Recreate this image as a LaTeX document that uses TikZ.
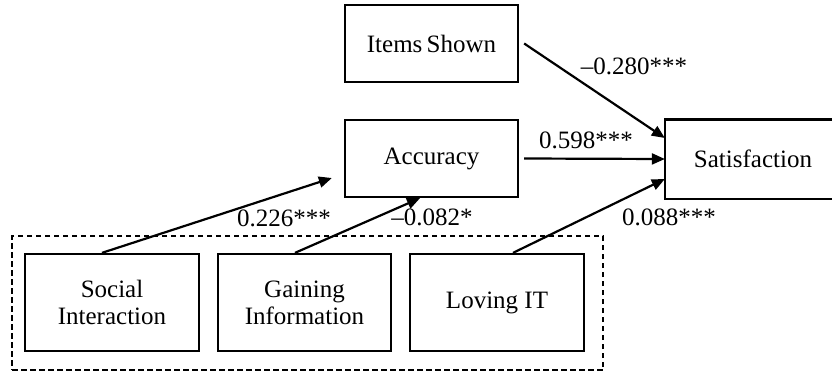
\documentclass[tikz,border=0pt]{standalone}
\usepackage{fontspec}
\setmainfont{Liberation Serif}
\usetikzlibrary{arrows.meta,calc}
\begin{document}
\begin{tikzpicture}[x=1pt,y=-1pt,
  font=\fontsize{25}{27}\selectfont,
  varbox/.style={draw,line width=2.3pt,minimum width=173pt,minimum height=77pt,
    inner sep=0pt,align=center},
  motbox/.style={varbox,minimum height=97pt},
  path/.style={line width=2.2pt,-{Triangle[length=13pt,width=11pt]}},
  coef/.style={inner sep=0pt}]
\useasboundingbox (0,0) rectangle (832,372);
% outcome and mediator variables
\node[varbox] (items) at (431.5,43.5) {Items\,Shown};
\node[varbox] (acc) at (431.5,158.5) {Accuracy};
% the outcome box runs on past the right margin
\node[varbox,draw=none,minimum width=174pt] (sat) at (753,159) {Satisfaction};
\draw[line width=2.3pt] ($(sat.north east)+(30,0)$) -- (sat.north west)
  -- (sat.south west) -- ($(sat.south east)+(30,0)$);
% motivation factors
\node[motbox,minimum width=174pt] (social) at (112,302.5) {Social\\Interaction};
\node[motbox] (gain) at (304.5,302.5) {Gaining\\Information};
\node[motbox,minimum width=174pt] (love) at (497,302.5) {Loving IT};
\node[draw,line width=2.2pt,dash pattern=on 5.5pt off 3.5pt,inner sep=0pt,
  minimum width=591pt,minimum height=134pt] (group) at (307.5,303) {};
% path coefficients
\draw[path] ($(items.east)+(5,0)$) -- ($(sat.west)+(0,-21)$);
\draw[path] ($(acc.east)+(5,0)$) -- (sat.west);
\draw[path] ($(love.north)+(16,0)$) -- ($(sat.west)+(0,20)$);
\draw[path] ($(social.north)+(-10,0)$) -- ($(acc.west)+(-12,19.5)$);
\draw[path] ($(gain.north)+(-9.5,0)$) -- ($(acc.south)+(-11.5,0)$);
\node[coef] (c1) at (634,66) {–0.280***};
\node[coef] (c2) at (586,140) {0.598***};
\node[coef] (c3) at (284,218) {0.226***};
\node[coef] (c4) at (432,217) {–0.082*};
\node[coef] (c5) at (669,217) {0.088***};
\end{tikzpicture}
\end{document}
